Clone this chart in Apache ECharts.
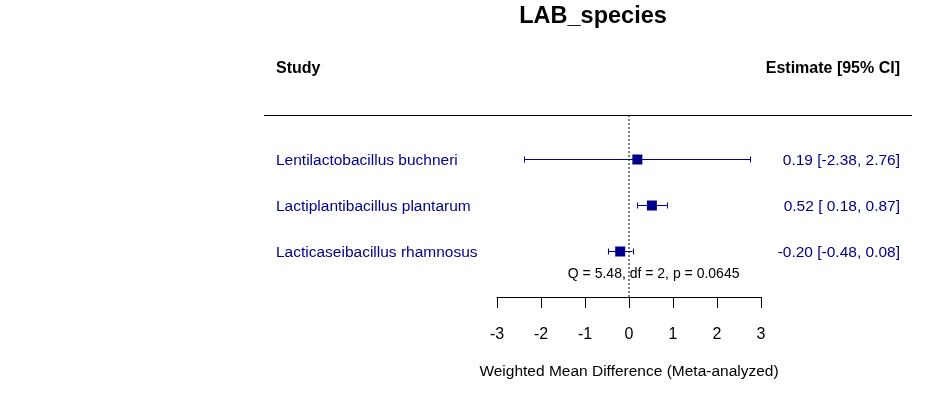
<!DOCTYPE html>
<html><head><meta charset="utf-8">
<script src="https://cdn.jsdelivr.net/npm/echarts@6/dist/echarts.min.js"></script>
<style>html,body{margin:0;padding:0;background:#fff}#c{width:937px;height:393px}</style>
</head><body><div id="c"></div>
<script>
const studies = ["Lentilactobacillus buchneri", "Lactiplantibacillus plantarum", "Lacticaseibacillus rhamnosus"];
const estimates = [0.19, 0.52, -0.20];
const lower = [-2.38, 0.18, -0.48];
const upper = [2.76, 0.87, 0.08];
const rows = [3, 2, 1];
const xTicks = [-3, -2, -1, 0, 1, 2, 3];
const hetText = "Q = 5.48, df = 2, p = 0.0645";
const fmt = v => (v < 0 ? "-" : "") + Math.abs(v).toFixed(2);
const fmtLo = v => (v < 0 ? "-" : " ") + Math.abs(v).toFixed(2);
const ciLabels = estimates.map((e, i) => {
  const lo = lower[i] < 0 ? fmtLo(lower[i]) : " " + lower[i].toFixed(2);
  return fmt(e) + " [" + lo + ", " + fmt(upper[i]) + "]";
});

const FONT = "Liberation Sans, Arial, sans-serif";
const BLUE = "#00008B";
const chart = echarts.init(document.getElementById('c'));
const data = studies.map((s, i) => [estimates[i], rows[i], lower[i], upper[i], i]);

chart.setOption({
  animation: false,
  title: { text: "LAB_species", left: 588, top: 0, textAlign: 'center',
    textStyle: { fontFamily: FONT, fontSize: 23.5, fontWeight: 'bold', color: '#000' } },
  grid: { left: 497, right: 176, top: 115, height: 182 },
  xAxis: { type: 'value', min: -3, max: 3, interval: 1,
    axisLine: { lineStyle: { color: '#000', width: 1 } },
    axisTick: { length: 11, lineStyle: { color: '#000' } },
    axisLabel: { margin: 30, fontFamily: FONT, fontSize: 16, color: '#000' },
    splitLine: { show: false },
    name: "Weighted Mean Difference (Meta-analyzed)", nameLocation: 'middle', nameGap: 67,
    nameTextStyle: { fontFamily: FONT, fontSize: 15.5, color: '#000' } },
  yAxis: { type: 'value', min: 0, max: 3.96, show: false },
  series: [
    { type: 'custom', data: data, clip: false,
      renderItem: (params, api) => {
        const y = api.value(1);
        const c = api.coord([api.value(0), y]);
        const l = api.coord([api.value(2), y]);
        const u = api.coord([api.value(3), y]);
        const idx = api.value(4);
        const s = 10, cap = 3;
        const yy = Math.round(c[1]) + 0.5;
        return { type: 'group', children: [
          { type: 'line', shape: { x1: l[0], y1: yy, x2: u[0], y2: yy }, style: { stroke: BLUE, lineWidth: 1 } },
          { type: 'line', shape: { x1: Math.round(l[0]) + 0.5, y1: yy-cap, x2: Math.round(l[0]) + 0.5, y2: yy+cap }, style: { stroke: BLUE, lineWidth: 1 } },
          { type: 'line', shape: { x1: Math.round(u[0]) + 0.5, y1: yy-cap, x2: Math.round(u[0]) + 0.5, y2: yy+cap }, style: { stroke: BLUE, lineWidth: 1 } },
          { type: 'rect', shape: { x: c[0]-s/2, y: yy-s/2, width: s, height: s }, style: { fill: BLUE } },
          { type: 'text', x: 276, y: yy + 1, style: { text: studies[idx], fill: BLUE, font: '15.5px ' + FONT, textVerticalAlign: 'middle', textAlign: 'left' } },
          { type: 'text', x: 900, y: yy + 1, style: { text: ciLabels[idx], fill: BLUE, font: '15.5px ' + FONT, textVerticalAlign: 'middle', textAlign: 'right' } }
        ]};
      }
    },
    { type: 'line', data: [[0, 0], [0, 3.96]], symbol: 'none', silent: true,
      lineStyle: { color: '#000', width: 1, type: [2, 2] } },
    { type: 'custom', data: [[0.56, 0.55]], clip: false,
      renderItem: (params, api) => {
        const p = api.coord([api.value(0), api.value(1)]);
        return { type: 'text', x: p[0], y: p[1] + 2, style: { text: hetText, fill: '#000', font: '14px ' + FONT, textAlign: 'center', textVerticalAlign: 'middle' } };
      }
    }
  ],
  graphic: [
    { type: 'line', shape: { x1: 264, y1: 115.5, x2: 912, y2: 115.5 }, style: { stroke: '#000', lineWidth: 1 } },
    { type: 'text', left: 276, top: 61, style: { text: 'Study', font: 'bold 16px ' + FONT, fill: '#000' } },
    { type: 'text', right: 37, top: 61, style: { text: 'Estimate [95% CI]', font: 'bold 16px ' + FONT, fill: '#000' } }
  ]
});
</script></body></html>
